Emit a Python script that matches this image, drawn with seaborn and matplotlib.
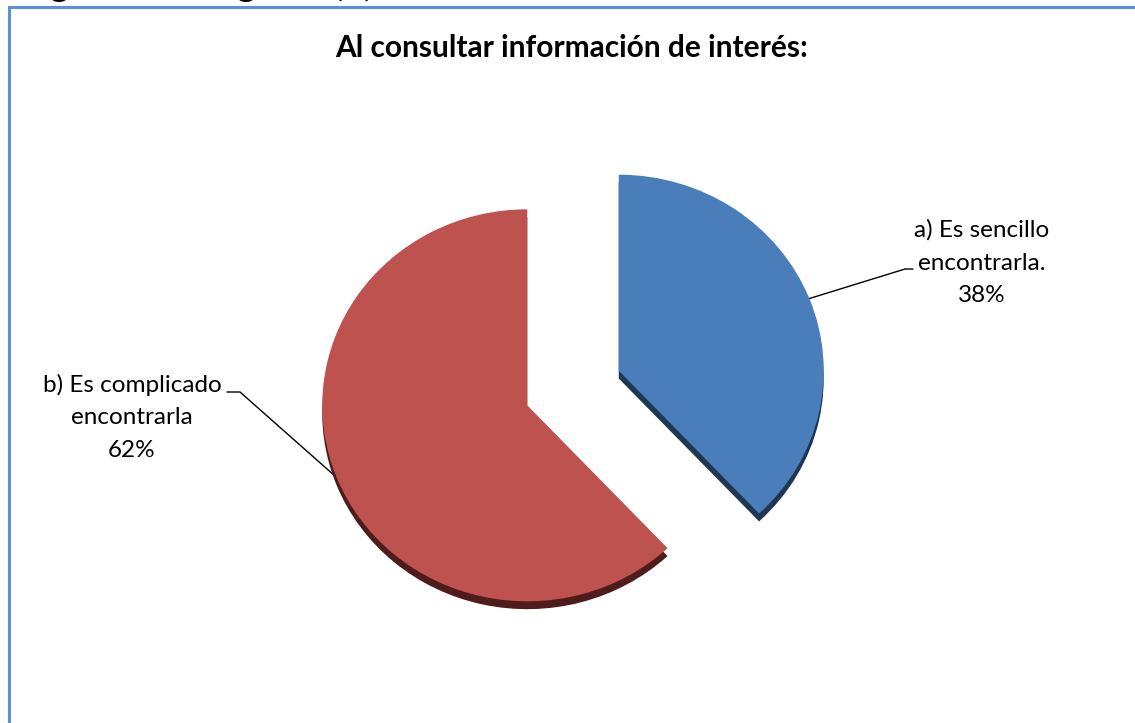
import matplotlib
matplotlib.use("Agg")
import matplotlib.pyplot as plt
import seaborn as sns
import numpy as np

# ---- data ----
categories = ["a) Es sencillo\nencontrarla.", "b) Es complicado\nencontrarla"]
values = [38, 62]
pct_labels = ["38%", "62%"]
title = "Al consultar información de interés:"
caption = "Figura 13. Pregunta (3)"

top_colors = ["#4A7EBA", "#BD524F"]
side_colors = ["#1F3654", "#4E1C1B"]

sns.set_theme(style="white")
plt.rcParams['font.family'] = ['Lato', 'DejaVu Sans']

W, H = 1135, 723
fig = plt.figure(figsize=(W / 100, H / 100), dpi=100)
fig.patch.set_facecolor("white")

# overlay axes in pixel coordinates (for frame, title, labels)
bg = fig.add_axes([0, 0, 1, 1])
bg.set_xlim(0, W)
bg.set_ylim(H, 0)
bg.axis("off")

# blue frame (left + top, rest cropped)
bg.plot([8.5, 8.5, W + 5], [H + 5, 7, 7], color="#5B8FD8", lw=2.2,
        solid_joinstyle="miter", zorder=1)

# cropped caption at top (only descenders visible, as in the reference)
bg.text(22, -3.5, caption, fontsize=25, fontweight="bold", va="baseline",
        ha="left", color="black", clip_on=True)

# title
bg.text(572, 57, title, fontsize=21.5, fontweight="bold", ha="center",
        va="baseline", color="black")

# ---- pie ----
cx, cy = 573, 388        # pixel center of un-exploded pie
sx, sy = 205, 196        # pixels per data unit
ax_w, ax_h = 2.5, 1.8
pie_ax = fig.add_axes([(cx - sx * ax_w) / W, (H - cy - sy * ax_h) / H,
                       2 * sx * ax_w / W, 2 * sy * ax_h / H])
explode = [0.24, 0.24]
depth = 0.04
pie_ax.pie(values, colors=side_colors, startangle=90, counterclock=False,
           explode=explode, center=(0, -depth), wedgeprops=dict(linewidth=0))
pie_ax.pie(values, colors=top_colors, startangle=90, counterclock=False,
           explode=explode, center=(0, 0), wedgeprops=dict(linewidth=0))
pie_ax.set_aspect("auto")
pie_ax.set_xlim(-ax_w, ax_w)
pie_ax.set_ylim(-ax_h, ax_h)
pie_ax.axis("off")

# ---- labels with leader lines ----
label_layout = [
    dict(text_x=982, base_y=237, elbow=(905, 269), end=(913, 269)),
    dict(text_x=132, base_y=392, elbow=(240, 392), end=(227, 392)),
]
line_gap = 32.5
total = float(sum(values))
cum = 0.0
for i, v in enumerate(values):
    theta = np.deg2rad(360.0 * (cum + v / 2.0) / total)
    cum += v
    r = 1.0 + explode[i]
    ax_px = cx + sx * r * np.sin(theta)
    ay_px = cy - sy * r * np.cos(theta)
    lay = label_layout[i]
    bg.plot([ax_px, lay["elbow"][0], lay["end"][0]],
            [ay_px, lay["elbow"][1], lay["end"][1]],
            color="black", lw=1.0, zorder=5)
    lines = categories[i].split("\n") + [pct_labels[i]]
    for j, line in enumerate(lines):
        bg.text(lay["text_x"], lay["base_y"] + j * line_gap, line,
                fontsize=17.5, ha="center", va="baseline", color="black")

fig.savefig("out.png", dpi=100, facecolor="white")
